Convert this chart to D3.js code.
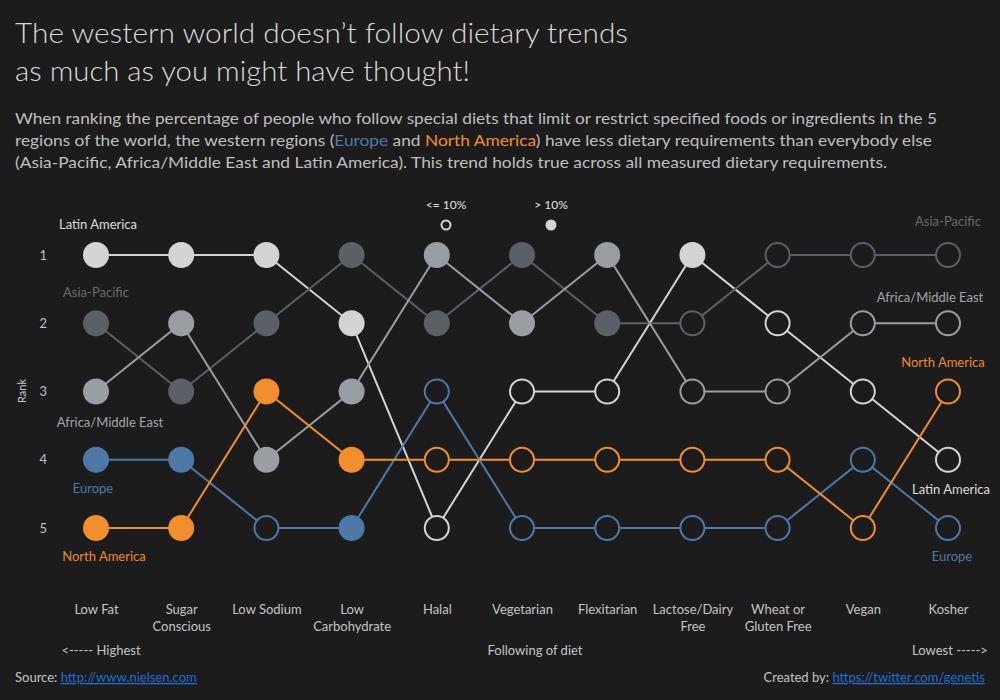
<!DOCTYPE html>
<html>
<head>
<meta charset="utf-8">
<script src="https://cdn.jsdelivr.net/npm/d3@7"></script>
<style>
  html, body { margin: 0; padding: 0; background: #1c1c1c; }
  svg { display: block; font-family: Lato, "Noto Sans", sans-serif; }
</style>
</head>
<body>
<svg id="chart" width="1000" height="700"></svg>
<script>
// ---------- DATA ----------
const categories = ["Low Fat", "Sugar Conscious", "Low Sodium", "Low Carbohydrate", "Halal",
  "Vegetarian", "Flexitarian", "Lactose/Dairy Free", "Wheat or Gluten Free", "Vegan", "Kosher"];
const categoryLines = [["Low Fat"], ["Sugar", "Conscious"], ["Low Sodium"], ["Low", "Carbohydrate"], ["Halal"],
  ["Vegetarian"], ["Flexitarian"], ["Lactose/Dairy", "Free"], ["Wheat or", "Gluten Free"], ["Vegan"], ["Kosher"]];
const regions = ["Latin America", "Asia-Pacific", "Africa/Middle East", "Europe", "North America"];
const rankTicks = [1, 2, 3, 4, 5];

// rank per category (1 = highest following)
const rankLatinAmerica = [1, 1, 1, 2, 5, 3, 3, 1, 2, 3, 4];
const rankAsiaPacific  = [2, 3, 2, 1, 2, 1, 2, 2, 1, 1, 1];
const rankAfricaME     = [3, 2, 4, 3, 1, 2, 1, 3, 3, 2, 2];
const rankEurope       = [4, 4, 5, 5, 3, 5, 5, 5, 5, 4, 5];
const rankNorthAmerica = [5, 5, 3, 4, 4, 4, 4, 4, 4, 5, 3];

// 1 = more than 10% follow the diet, 0 = 10% or less
const over10LatinAmerica = [1, 1, 1, 1, 0, 0, 0, 1, 0, 0, 0];
const over10AsiaPacific  = [1, 1, 1, 1, 1, 1, 1, 0, 0, 0, 0];
const over10AfricaME     = [1, 1, 1, 1, 1, 1, 1, 0, 0, 0, 0];
const over10Europe       = [1, 1, 0, 1, 0, 0, 0, 0, 0, 0, 0];
const over10NorthAmerica = [1, 1, 1, 1, 0, 0, 0, 0, 0, 0, 0];

const legendLabels = ["<= 10%", "> 10%"];

// ---------- STYLE ----------
const BG = "#1c1c1c";
const regionColor = {
  "Latin America": "#d4d4d4",
  "Asia-Pacific": "#5b5f68",
  "Africa/Middle East": "#9a9da3",
  "Europe": "#4e79a7",
  "North America": "#f28e2b"
};
const labelColor = {
  "Latin America": "#dcdcdc",
  "Asia-Pacific": "#676b74",
  "Africa/Middle East": "#a2a5ab",
  "Europe": "#4e79a7",
  "North America": "#ee8a2a"
};
const textColor = "#c4c4c4";

const series = regions.map((r, i) => ({
  region: r,
  ranks: [rankLatinAmerica, rankAsiaPacific, rankAfricaME, rankEurope, rankNorthAmerica][i],
  over: [over10LatinAmerica, over10AsiaPacific, over10AfricaME, over10Europe, over10NorthAmerica][i]
}));

const svg = d3.select("#chart");
svg.append("rect").attr("width", 1000).attr("height", 700).attr("fill", BG);

const x = d3.scalePoint().domain(categories).range([96, 948]);
const y = d3.scaleLinear().domain([1, 5]).range([255, 528]);

// ---------- TITLE ----------
const title = svg.append("g").attr("fill", "#dadada").style("font-weight", 300).style("font-size", "27px");
title.append("text").attr("x", 15).attr("y", 43)
  .attr("textLength", 613).attr("lengthAdjust", "spacingAndGlyphs")
  .text("The western world doesn\u2019t follow dietary trends");
title.append("text").attr("x", 15).attr("y", 81)
  .attr("textLength", 455).attr("lengthAdjust", "spacingAndGlyphs")
  .text("as much as you might have thought!");

const sub = svg.append("g").attr("fill", "#bfbfbf").style("font-size", "16px");
sub.append("text").attr("x", 15).attr("y", 124)
  .attr("textLength", 922).attr("lengthAdjust", "spacingAndGlyphs")
  .text("When ranking the percentage of people who follow special diets that limit or restrict specified foods or ingredients in the 5");
const l2 = sub.append("text").attr("x", 15).attr("y", 146)
  .attr("textLength", 917).attr("lengthAdjust", "spacingAndGlyphs");
l2.append("tspan").text("regions of the world, the western regions (");
l2.append("tspan").attr("fill", regionColor["Europe"]).text("Europe");
l2.append("tspan").text(" and ");
l2.append("tspan").attr("fill", regionColor["North America"]).text("North America");
l2.append("tspan").text(") have less dietary requirements than everybody else");
sub.append("text").attr("x", 15).attr("y", 168)
  .attr("textLength", 872).attr("lengthAdjust", "spacingAndGlyphs")
  .text("(Asia-Pacific, Africa/Middle East and Latin America). This trend holds true across all measured dietary requirements.");

// ---------- LEGEND ----------
const legend = svg.append("g").style("font-size", "12px").attr("fill", "#e0e0e0");
[[446, 0], [551, 1]].forEach(([lx, filled], i) => {
  legend.append("text").attr("x", lx).attr("y", 209).attr("text-anchor", "middle").text(legendLabels[i]);
  legend.append("circle").attr("cx", lx).attr("cy", 225).attr("r", filled ? 5.5 : 4.5)
    .attr("fill", filled ? "#d4d4d4" : BG)
    .attr("stroke", filled ? "none" : "#d4d4d4").attr("stroke-width", 2);
});

// ---------- AXES ----------
const yAxis = svg.append("g").attr("transform", "translate(47,0)")
  .call(d3.axisLeft(y).tickValues(rankTicks).tickFormat(d3.format("d")).tickSize(0).tickPadding(0));
yAxis.select(".domain").remove();
yAxis.selectAll("text").attr("fill", "#b9c3cc").style("font-size", "13px").style("font-family", "Lato, sans-serif");

svg.append("text").attr("transform", "translate(26,391) rotate(-90)")
  .attr("text-anchor", "middle").attr("fill", "#c3c9cf").style("font-size", "11px").text("Rank");

const xAxis = svg.append("g").attr("transform", "translate(0,600)")
  .call(d3.axisBottom(x).tickSize(0).tickPadding(0));
xAxis.select(".domain").remove();
xAxis.selectAll("text")
  .attr("fill", textColor).style("font-size", "13px").style("font-family", "Lato, sans-serif")
  .each(function(d, i) {
    const t = d3.select(this).text("").attr("y", 14).attr("dy", null);
    categoryLines[i].forEach((ln, j) => {
      t.append("tspan").attr("x", 0).attr("y", 14 + j * 17).text(ln);
    });
  });

const foot = svg.append("g").attr("fill", textColor).style("font-size", "13px");
foot.append("text").attr("x", 101).attr("y", 655).attr("text-anchor", "middle").text("<----- Highest");
foot.append("text").attr("x", 535).attr("y", 655).attr("text-anchor", "middle").text("Following of diet");
foot.append("text").attr("x", 950).attr("y", 655).attr("text-anchor", "middle").text("Lowest ----->");

const src = foot.append("text").attr("x", 15).attr("y", 682);
src.append("tspan").text("Source: ");
src.append("tspan").attr("fill", "#1f6fd1").attr("text-decoration", "underline").text("http://www.nielsen.com");
const cr = foot.append("text").attr("x", 985).attr("y", 682).attr("text-anchor", "end");
cr.append("tspan").text("Created by: ");
cr.append("tspan").attr("fill", "#1f6fd1").attr("text-decoration", "underline").text("https://twitter.com/genetis");

// ---------- LINES & POINTS ----------
const line = d3.line().x((d, i) => x(categories[i])).y(d => y(d));
const plot = svg.append("g");
plot.selectAll("path.series").data(series).join("path")
  .attr("class", "series")
  .attr("d", d => line(d.ranks))
  .attr("fill", "none")
  .attr("stroke", d => regionColor[d.region])
  .attr("stroke-width", 2);

series.forEach(s => {
  plot.selectAll(null).data(s.ranks.map((r, i) => ({ r, i, over: s.over[i] }))).join("circle")
    .attr("cx", d => x(categories[d.i]))
    .attr("cy", d => y(d.r))
    .attr("r", d => d.over ? 13 : 12)
    .attr("fill", d => d.over ? regionColor[s.region] : BG)
    .attr("stroke", d => d.over ? "none" : regionColor[s.region])
    .attr("stroke-width", 2);
});

// ---------- REGION LABELS ----------
// [region, rank, vertical offset]
const leftLabels = [["Latin America", 1, -30], ["Asia-Pacific", 2, -30], ["Africa/Middle East", 3, 31], ["Europe", 4, 29], ["North America", 5, 29]];
const rightLabels = [["Asia-Pacific", 1, -33], ["Africa/Middle East", 2, -25], ["North America", 3, -29], ["Latin America", 4, 30], ["Europe", 5, 29]];
const labG = svg.append("g").style("font-size", "13px");
const leftX = { "Latin America": 98, "Asia-Pacific": 96, "Africa/Middle East": 110, "Europe": 93, "North America": 104 };
const rightX = { "Asia-Pacific": 948, "Africa/Middle East": 930, "North America": 943, "Latin America": 951, "Europe": 952 };
leftLabels.forEach(([r, rank, off]) => {
  labG.append("text").attr("x", leftX[r]).attr("y", y(rank) + off + 4).attr("text-anchor", "middle")
    .attr("fill", labelColor[r]).text(r);
});
rightLabels.forEach(([r, rank, off]) => {
  labG.append("text").attr("x", rightX[r]).attr("y", y(rank) + off + 4).attr("text-anchor", "middle")
    .attr("fill", labelColor[r]).text(r);
});
</script>
</body>
</html>
